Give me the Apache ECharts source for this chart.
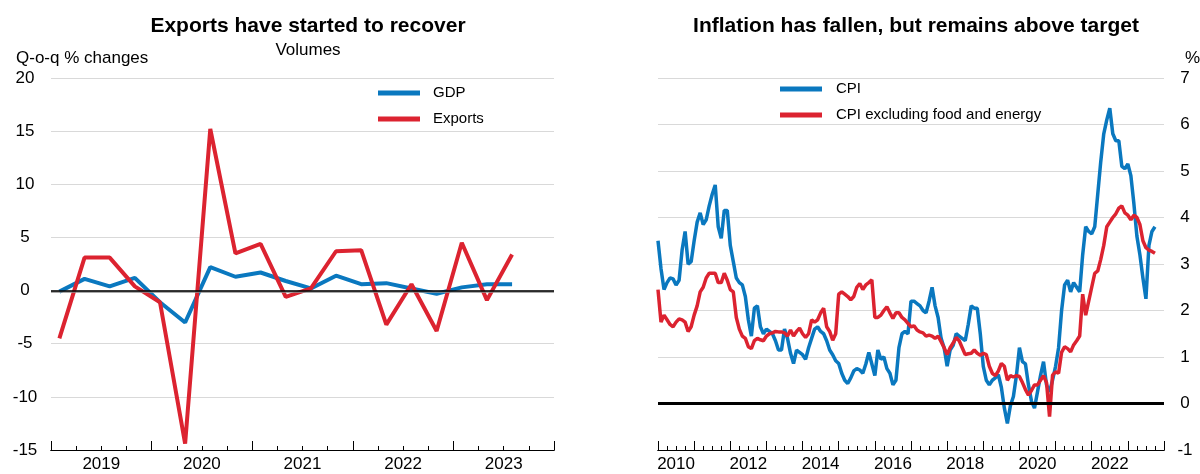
<!DOCTYPE html>
<html>
<head>
<meta charset="utf-8">
<script src="https://cdn.jsdelivr.net/npm/echarts@6/dist/echarts.min.js"></script>
<style>
html,body{margin:0;padding:0;background:#fff;}
#chart{width:1200px;height:474px;}
</style>
</head>
<body>
<div id="chart"></div>
<script>
// ---------- Left panel data (quarterly, Q1 2019 .. Q3 2023) ----------
const leftYears = ['2019', '2020', '2021', '2022', '2023'];
const gdp = [-0.1, 1.1, 0.4, 1.2, -1.1, -3.0, 2.2, 1.3, 1.7, 0.9, 0.2, 1.4, 0.6, 0.7, 0.2, -0.3, 0.3, 0.6, 0.6];
const exportsVol = [-4.5, 3.1, 3.1, 0.4, -1.1, -14.4, 15.2, 3.5, 4.4, -0.6, 0.2, 3.7, 3.8, -3.2, 0.6, -3.8, 4.5, -0.9, 3.4];
const leftYTicks = [-15, 20, 5];

// ---------- Right panel data (monthly, Jan 2010 .. Oct 2023) ----------
const rightYears = ['2010', '2012', '2014', '2016', '2018', '2020', '2022'];
const cpi = [
  3.5, 2.9, 2.45, 2.6, 2.7, 2.68, 2.55, 2.65, 3.3, 3.7,
  3.0, 3.05, 3.5, 3.9, 4.1, 3.85, 3.95, 4.25, 4.5, 4.7,
  3.8, 3.55, 4.15, 4.15, 3.4, 3.05, 2.7, 2.6, 2.55, 2.3,
  1.8, 1.45, 2.05, 2.1, 1.65, 1.5, 1.6, 1.55, 1.5, 1.35,
  1.15, 1.15, 1.6, 1.4, 1.08, 0.86, 1.15, 1.1, 1.05, 0.95,
  1.2, 1.4, 1.6, 1.65, 1.55, 1.5, 1.35, 1.15, 1.05, 0.92,
  0.86, 0.65, 0.5, 0.43, 0.55, 0.7, 0.75, 0.72, 0.65, 0.85,
  1.1, 0.85, 0.6, 1.15, 0.95, 1.0, 0.75, 0.65, 0.4, 0.5,
  1.2, 1.5, 1.55, 1.5, 2.2, 2.2, 2.15, 2.1, 2.0, 1.95,
  2.2, 2.5, 2.1, 1.85, 1.4, 1.2, 0.8, 1.15, 1.25, 1.5,
  1.45, 1.4, 1.35, 1.7, 2.1, 2.05, 2.05, 1.5, 0.8, 0.5,
  0.4, 0.5, 0.55, 0.62, 0.35, -0.1, -0.43, -0.05, 0.15, 0.6,
  1.2, 0.9, 0.85, 0.4, 0.05, -0.1, 0.25, 0.6, 0.9, 0.4,
  0.25, 0.5, 0.8, 1.2, 2.0, 2.55, 2.65, 2.4, 2.6, 2.5,
  2.4, 3.2, 3.8, 3.7, 3.65, 3.8, 4.5, 5.2, 5.8, 6.1,
  6.35, 5.8, 5.65, 5.65, 5.1, 5.05, 5.15, 4.9, 4.3, 3.6,
  3.2, 2.7, 2.25, 3.4, 3.7, 3.8
];
const cpiCore = [
  2.45, 1.75, 1.9, 1.8, 1.7, 1.65, 1.75, 1.82, 1.8, 1.75,
  1.55, 1.65, 1.9, 2.1, 2.4, 2.5, 2.7, 2.8, 2.8, 2.8,
  2.6, 2.6, 2.8, 2.65, 2.45, 2.4, 1.85, 1.6, 1.45, 1.4,
  1.22, 1.18, 1.35, 1.4, 1.37, 1.35, 1.45, 1.5, 1.52, 1.55,
  1.54, 1.54, 1.52, 1.45, 1.58, 1.45, 1.55, 1.62, 1.5, 1.42,
  1.5, 1.8, 1.75, 1.8, 1.95, 2.05, 1.65, 1.55, 1.36, 1.5,
  2.35, 2.4, 2.35, 2.3, 2.23, 2.3, 2.5, 2.58, 2.45, 2.55,
  2.6, 2.66, 1.85, 1.85, 1.9, 2.0, 2.08, 1.95, 1.83, 1.95,
  1.95, 1.85, 1.8, 1.72, 1.65, 1.67, 1.58, 1.54, 1.52, 1.45,
  1.47, 1.45, 1.4, 1.45, 1.33, 1.2, 1.05, 1.2, 1.3, 1.42,
  1.35, 1.2, 1.05, 1.07, 1.08, 1.15, 1.08, 1.04, 1.08, 1.05,
  0.8, 0.65, 0.6, 0.7, 0.86, 0.8, 0.5, 0.6, 0.57, 0.6,
  0.58, 0.45, 0.3, 0.18, 0.28, 0.4, 0.4, 0.5, 0.6, 0.45,
  -0.28, 0.61, 0.68, 0.65, 1.1, 1.22, 1.18, 1.11, 1.26, 1.35,
  1.45, 2.35, 1.9, 2.2, 2.5, 2.8, 2.85, 3.1, 3.4, 3.8,
  3.9, 4.0, 4.08, 4.2, 4.25, 4.1, 4.05, 3.95, 4.05, 4.0,
  3.85, 3.5, 3.35, 3.3, 3.27, 3.23
];
const rightYTicks = [-1, 7, 1];

// ---------- build ----------
const BLUE = '#0a78bf';
const RED = '#dc2330';
const FONT = 'Liberation Sans, Arial, sans-serif';

const gdpPts = gdp.map((v, i) => [i + 1 / 3, v]);
const expPts = exportsVol.map((v, i) => [i + 1 / 3, v]);
const cpiPts = cpi.map((v, i) => [i, v]);
const corePts = cpiCore.map((v, i) => [i, v]);

const chart = echarts.init(document.getElementById('chart'), null, { renderer: 'canvas' });

function tickAxis(gridIndex, max, interval, len) {
  return {
    type: 'value', gridIndex, min: 0, max, interval, position: 'bottom',
    axisLine: { show: true, onZero: false, lineStyle: { color: '#000', width: 1.2 } },
    axisTick: { show: true, inside: true, length: len, lineStyle: { color: '#000', width: 1 } },
    axisLabel: { show: false }, splitLine: { show: false }
  };
}
function labelAxis(gridIndex, max, interval, fmt) {
  return {
    type: 'value', gridIndex, min: 0, max, interval, position: 'bottom',
    axisLine: { show: false, onZero: false }, axisTick: { show: false }, splitLine: { show: false },
    axisLabel: { show: true, margin: 6, color: '#000', fontSize: 17, fontFamily: FONT, formatter: fmt, showMinLabel: true, showMaxLabel: true }
  };
}

const option = {
  animation: false,
  textStyle: { fontFamily: FONT },
  title: [
    { text: 'Exports have started to recover', left: 303, top: 11, textAlign: 'center',
      textStyle: { fontSize: 21, fontWeight: 'bold', color: '#000', fontFamily: FONT } },
    { text: 'Volumes', left: 303, top: 37, textAlign: 'center',
      textStyle: { fontSize: 17, fontWeight: 'normal', color: '#000', fontFamily: FONT } },
    { text: 'Q-o-q % changes', left: 11, top: 45,
      textStyle: { fontSize: 17, fontWeight: 'normal', color: '#000', fontFamily: FONT } },
    { text: 'Inflation has fallen, but remains above target', left: 911, top: 11, textAlign: 'center',
      textStyle: { fontSize: 21, fontWeight: 'bold', color: '#000', fontFamily: FONT } },
    { text: '%', left: 1180, top: 45,
      textStyle: { fontSize: 17, fontWeight: 'normal', color: '#000', fontFamily: FONT } }
  ],
  legend: [
    { data: ['GDP', 'Exports'], left: 373, top: 79, orient: 'vertical', itemWidth: 42, itemHeight: 5,
      itemGap: 8, icon: 'rect', selectedMode: false,
      textStyle: { fontSize: 15, color: '#000', lineHeight: 18, padding: [0, 0, 0, 8], fontFamily: FONT } },
    { data: ['CPI', 'CPI excluding food and energy'], left: 775, top: 75, orient: 'vertical', itemWidth: 42, itemHeight: 5,
      itemGap: 8, icon: 'rect', selectedMode: false,
      textStyle: { fontSize: 15, color: '#000', lineHeight: 18, padding: [0, 0, 0, 9], fontFamily: FONT } }
  ],
  grid: [
    { left: 51, right: 646, top: 78, bottom: 24, outerBoundsMode: 'none' },
    { left: 658, right: 36, top: 78, bottom: 24, outerBoundsMode: 'none' }
  ],
  xAxis: [
    tickAxis(0, 20, 1, 4),
    tickAxis(0, 20, 4, 9),
    labelAxis(0, 20, 2, v => (Math.round(v) % 4 === 2 ? leftYears[(Math.round(v) - 2) / 4] : '')),
    tickAxis(1, 168, 3, 4),
    tickAxis(1, 168, 12, 9),
    labelAxis(1, 168, 6, v => (Math.round(v) % 24 === 6 ? rightYears[(Math.round(v) - 6) / 24] : ''))
  ],
  yAxis: [
    { type: 'value', gridIndex: 0, min: leftYTicks[0], max: leftYTicks[1], interval: leftYTicks[2],
      axisLine: { show: false }, axisTick: { show: false },
      splitLine: { show: true, lineStyle: { color: '#d9d9d9', width: 1 } },
      axisLabel: { color: '#000', fontSize: 17, fontFamily: FONT, align: 'center', margin: 26 } },
    { type: 'value', gridIndex: 1, position: 'right', min: rightYTicks[0], max: rightYTicks[1], interval: rightYTicks[2],
      axisLine: { show: false }, axisTick: { show: false },
      splitLine: { show: true, lineStyle: { color: '#d9d9d9', width: 1 } },
      axisLabel: { color: '#000', fontSize: 17, fontFamily: FONT, align: 'center', margin: 21 } }
  ],
  series: [
    { name: 'GDP', type: 'line', xAxisIndex: 0, yAxisIndex: 0, data: gdpPts, showSymbol: false, symbol: 'none',
      lineStyle: { color: BLUE, width: 4 }, itemStyle: { color: BLUE }, z: 3,
      markLine: { silent: true, symbol: 'none', label: { show: false },
        lineStyle: { color: '#000', width: 1.6, type: 'solid' },
        data: [
          { yAxis: -0.14, lineStyle: { color: '#8c8c8c', width: 1.6, type: 'solid' } },
          { yAxis: 0, lineStyle: { color: '#000', width: 1.6, type: 'solid' } }
        ] } },
    { name: 'Exports', type: 'line', xAxisIndex: 0, yAxisIndex: 0, data: expPts, showSymbol: false, symbol: 'none',
      lineStyle: { color: RED, width: 4 }, itemStyle: { color: RED }, z: 4 },
    { name: 'CPI', type: 'line', xAxisIndex: 3, yAxisIndex: 1, data: cpiPts, showSymbol: false, symbol: 'none',
      lineStyle: { color: BLUE, width: 3.5 }, itemStyle: { color: BLUE }, z: 3,
      markLine: { silent: true, symbol: 'none', label: { show: false },
        lineStyle: { color: '#000', width: 3, type: 'solid' }, data: [{ yAxis: 0 }] } },
    { name: 'CPI excluding food and energy', type: 'line', xAxisIndex: 3, yAxisIndex: 1, data: corePts, showSymbol: false, symbol: 'none',
      lineStyle: { color: RED, width: 3.5 }, itemStyle: { color: RED }, z: 4 }
  ]
};
chart.setOption(option);
</script>
</body>
</html>
